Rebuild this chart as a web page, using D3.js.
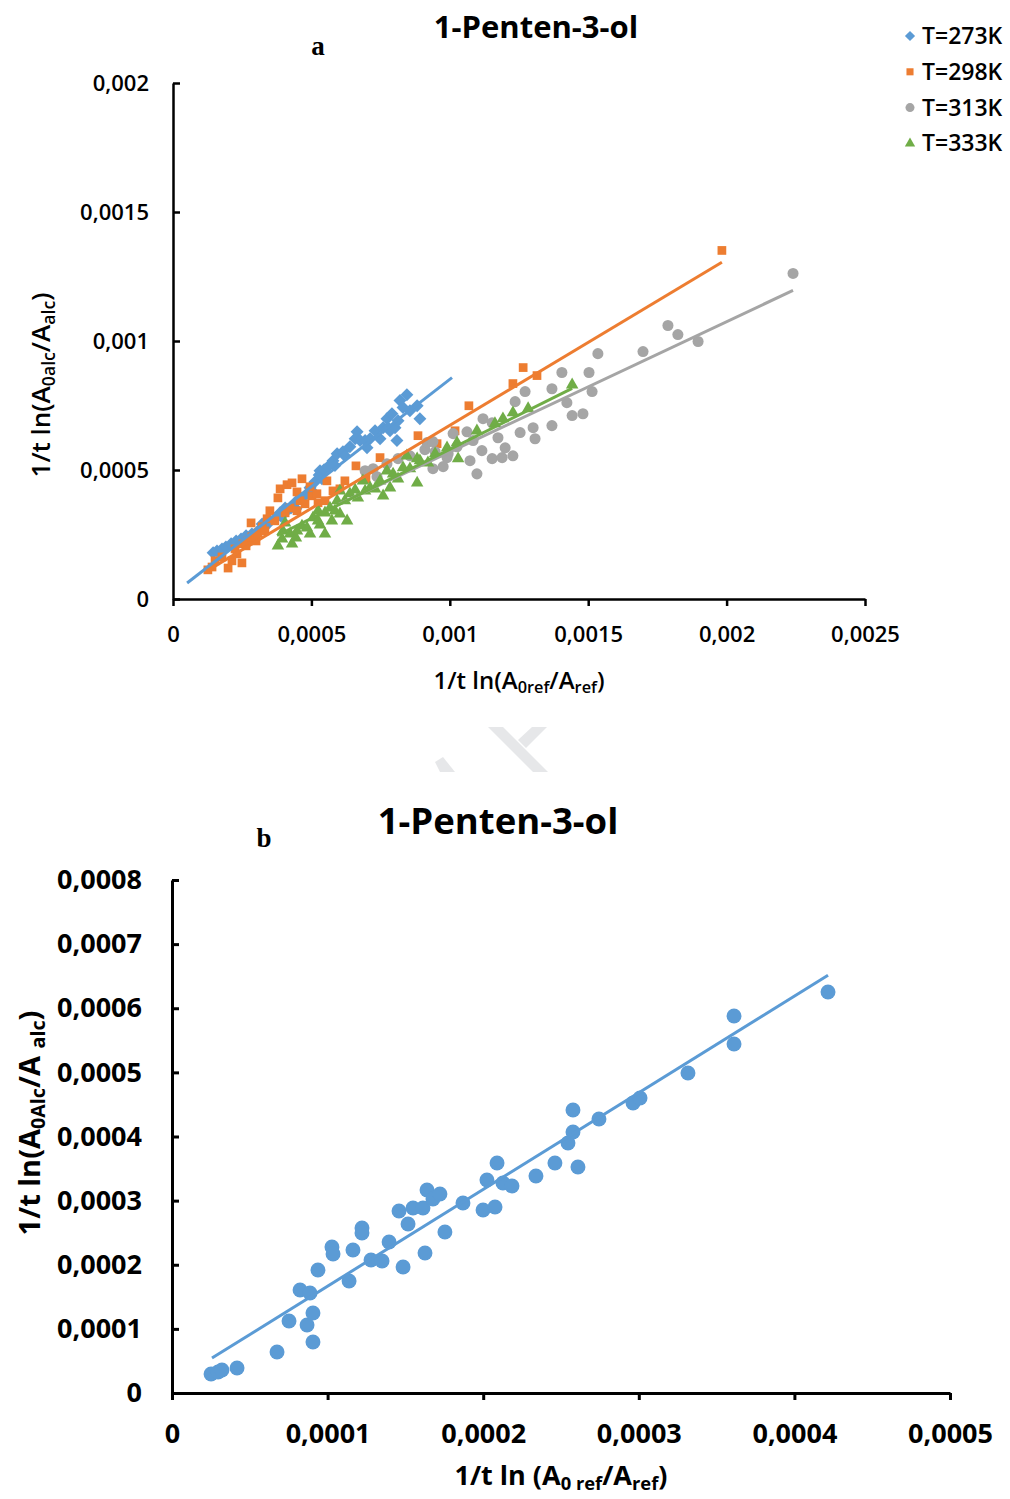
<!DOCTYPE html>
<html>
<head>
<meta charset="utf-8">
<script src="https://cdn.jsdelivr.net/npm/d3@7"></script>
<style>
  body { margin: 0; background: #fff; }
  svg { display: block; font-family: 'Open Sans', sans-serif; }
</style>
</head>
<body>
<svg id="fig" width="1010" height="1499"></svg>
<script>
// all values below are in units of 1e-4
const UNIT = 1e-4;

// chart a: 1/t ln(A0ref/Aref) vs 1/t ln(A0alc/Aalc)
const seriesNames = ["T=273K", "T=298K", "T=313K", "T=333K"];
const seriesColors = ["#5B9BD5", "#ED7D31", "#A5A5A5", "#70AD47"];

const s273 = [[1.45,1.79],[1.59,1.86],[1.77,1.94],[1.91,2.02],[2.10,2.14],[2.28,2.25],[2.46,2.33],[2.64,2.45],
  [2.85,2.52],[3.07,2.64],[3.22,2.91],[3.29,2.76],[3.50,2.99],[3.72,3.15],[3.87,3.34],[3.90,3.22],[4.05,3.53],
  [4.08,3.38],[4.26,3.53],[4.44,3.50],[4.44,3.77],[4.66,3.92],[4.84,4.08],[4.95,4.31],[5.02,4.19],[5.13,4.54],
  [5.28,4.81],[5.31,4.97],[5.38,4.66],[5.46,5.01],[5.60,5.13],[5.78,5.36],[5.85,5.17],[5.93,5.63],[6.14,5.71],
  [6.21,5.55],[6.39,5.90],[6.58,6.21],[6.65,6.48],[6.76,6.14],[6.94,6.14],[7.01,5.86],[7.12,6.21],[7.30,6.52],
  [7.48,6.21],[7.59,6.64],[7.73,6.99],[7.77,6.64],[7.84,6.52],[7.91,7.18],[8.02,6.64],[8.09,6.14],[8.13,6.91],
  [8.20,7.69],[8.31,7.42],[8.45,7.92],[8.56,7.30],[8.82,7.49],[8.92,6.99]];

const s298 = [[1.26,1.13],[1.41,1.24],[1.52,1.48],[1.77,1.63],[1.99,1.20],[2.13,1.48],[2.24,1.94],[2.31,1.75],
  [2.49,1.40],[2.53,2.14],[2.64,2.06],[2.71,2.25],[2.82,2.95],[2.85,2.41],[3.00,2.25],[3.07,2.56],[3.22,2.80],
  [3.32,2.64],[3.40,3.11],[3.50,3.42],[3.68,3.03],[3.79,3.92],[3.87,4.27],[4.05,3.34],[4.12,4.43],[4.23,3.53],
  [4.30,4.50],[4.48,4.15],[4.48,3.42],[4.59,3.81],[4.66,4.66],[4.77,3.69],[4.95,4.35],[5.02,4.00],[5.20,4.08],
  [5.24,3.73],[5.49,3.81],[5.56,4.58],[5.78,4.19],[6.03,4.27],[6.21,4.58],[6.61,5.16],[6.97,4.66],[7.48,5.48],
  [8.85,6.33],[9.54,6.02],[10.19,6.52],[10.69,7.49],[12.28,8.35],[12.65,8.97],[13.15,8.66],[19.83,13.51]];

const s313 = [[6.94,4.97],[7.23,5.05],[7.37,4.74],[7.73,5.24],[8.13,5.44],[8.56,5.55],[9.10,5.79],[9.18,6.06],
  [9.39,6.10],[9.39,5.05],[9.47,5.71],[9.76,5.13],[9.90,5.48],[9.94,5.63],[10.12,6.41],[10.26,5.90],[10.62,6.48],
  [10.73,5.36],[10.84,6.14],[10.98,4.85],[11.16,5.75],[11.20,6.99],[11.53,6.83],[11.53,5.44],[11.74,6.25],
  [11.89,5.48],[12.00,5.86],[12.28,5.55],[12.36,7.65],[12.54,6.45],[12.72,8.04],[13.01,6.64],[13.08,6.21],
  [13.69,8.15],[13.69,6.72],[14.05,8.78],[14.23,7.61],[14.42,7.11],[14.81,7.18],[15.03,8.78],[15.14,8.04],
  [15.35,9.51],[16.98,9.59],[17.88,10.60],[18.24,10.25],[18.97,9.98],[22.40,12.62]];

const s333 = [[3.79,2.06],[3.94,2.33],[3.97,2.64],[4.05,2.95],[4.23,2.52],[4.30,2.14],[4.44,2.37],[4.48,2.64],
  [4.66,2.83],[4.84,2.76],[4.95,2.52],[5.06,3.15],[5.24,3.03],[5.24,3.42],[5.31,2.87],[5.49,3.34],[5.49,2.52],
  [5.67,3.53],[5.74,3.03],[5.85,3.42],[5.93,3.81],[6.03,4.19],[6.03,3.30],[6.21,3.81],[6.29,3.03],[6.39,4.08],
  [6.58,4.23],[6.68,3.92],[6.86,4.58],[6.94,4.19],[7.12,4.31],[7.30,4.27],[7.48,4.58],[7.59,4.00],[7.73,4.97],
  [7.84,4.31],[7.95,4.85],[8.13,4.66],[8.31,5.09],[8.45,5.55],[8.56,5.05],[8.82,5.44],[8.82,4.50],[8.92,5.36],
  [9.21,5.28],[9.47,5.63],[9.90,5.86],[10.26,6.06],[10.30,5.44],[10.98,6.52],[11.63,6.80],[11.92,6.99],
  [12.28,7.22],[12.83,7.38],[14.42,8.30]];

const trendA = [
  { x0: 0.51, x1: 10.08, slope: 0.832, b: 0.196 },
  { x0: 1.23, x1: 19.83, slope: 0.643, b: 0.30 },
  { x0: 6.00, x1: 22.40, slope: 0.505, b: 0.65 },
  { x0: 3.76, x1: 14.42, slope: 0.535, b: 0.45 }
];
const xTicksA = [0, 5, 10, 15, 20, 25];
const yTicksA = [0, 5, 10, 15, 20];

// chart b
const sB = [[0.251,0.296],[0.296,0.327],[0.321,0.359],[0.418,0.390],[0.675,0.640],[0.752,1.123],[0.823,1.606],
  [0.887,1.559],[0.868,1.060],[0.906,1.248],[0.906,0.795],[0.938,1.918],[1.028,2.277],[1.035,2.168],[1.138,1.747],
  [1.163,2.230],[1.221,2.573],[1.221,2.495],[1.279,2.074],[1.350,2.058],[1.395,2.355],[1.459,2.838],[1.485,1.965],
  [1.517,2.635],[1.549,2.885],[1.613,2.885],[1.626,2.183],[1.639,3.166],[1.677,3.025],[1.722,3.103],[1.754,2.511],
  [1.870,2.963],[1.999,2.854],[2.076,2.901],[2.024,3.322],[2.089,3.587],[2.127,3.275],[2.185,3.228],[2.339,3.384],
  [2.461,3.587],[2.609,3.524],[2.545,3.899],[2.577,4.070],[2.577,4.413],[2.744,4.273],[2.963,4.522],[3.008,4.600],
  [3.316,4.990],[3.612,5.442],[3.612,5.879],[4.216,6.253]];
const trendB = [{ x0: 0.257, x1: 4.216, slope: 1.508, b: 0.158 }];
const xTicksB = [0, 1, 2, 3, 4, 5];
const yTicksB = [0, 1, 2, 3, 4, 5, 6, 7, 8];

const locale = d3.formatLocale({ decimal: ",", thousands: ".", grouping: [3], currency: ["", ""] });
const fmt = d => d === 0 ? "0" : locale.format("~g")(d * UNIT);

class ScatterChart {
    constructor(_config, _series, _trends) {
        this.config = {
            svg: _config.svg,
            left: _config.left,
            top: _config.top,
            width: _config.width,
            height: _config.height,
            xMax: _config.xMax,
            yMax: _config.yMax,
            xTicks: _config.xTicks,
            yTicks: _config.yTicks,
            tickFont: _config.tickFont,
            tickWeight: _config.tickWeight || 400,
            xPad: _config.xPad,
            yPad: _config.yPad,
            axisWidth: _config.axisWidth || 2.5,
        };
        this.series = _series;
        this.trends = _trends;
        this.initVis();
    }

    initVis() {
        let vis = this;
        const c = vis.config;

        vis.xScale = d3.scaleLinear().domain([0, c.xMax]).range([0, c.width]);
        vis.yScale = d3.scaleLinear().domain([0, c.yMax]).range([c.height, 0]);

        vis.chart = c.svg.append('g')
            .attr('transform', `translate(${c.left}, ${c.top})`);

        vis.xAxis = d3.axisBottom(vis.xScale)
            .tickValues(c.xTicks).tickFormat(fmt)
            .tickSize(7).tickSizeOuter(0).tickPadding(c.xPad);
        vis.yAxis = d3.axisLeft(vis.yScale)
            .tickValues(c.yTicks).tickFormat(fmt)
            .tickSize(-7).tickSizeOuter(0).tickPadding(c.yPad);
    }

    renderVis() {
        let vis = this;
        const c = vis.config;

        vis.series.forEach(s => {
            vis.chart.append('g').selectAll('path')
                .data(s.values)
                .join('path')
                .attr('d', d3.symbol(s.shape, s.size))
                .attr('transform', d => `translate(${vis.xScale(d[0])}, ${vis.yScale(d[1])}) rotate(${s.rotate || 0})`)
                .attr('fill', s.color);
        });

        const line = d3.line().x(d => vis.xScale(d[0])).y(d => vis.yScale(d[1]));
        vis.trends.forEach((t, i) => {
            vis.chart.append('path')
                .attr('d', line([[t.x0, t.slope * t.x0 + t.b], [t.x1, t.slope * t.x1 + t.b]]))
                .attr('stroke', vis.series[i].color)
                .attr('stroke-width', 3)
                .attr('fill', 'none');
        });

        const styleAxis = g => {
            g.select('.domain').attr('stroke-width', c.axisWidth);
            g.selectAll('.tick line').attr('stroke-width', c.axisWidth);
            g.selectAll('.tick text')
                .attr('fill', '#000')
                .style('font-size', c.tickFont + 'px')
                .style('font-weight', c.tickWeight)
                .style('font-family', "'Open Sans', sans-serif");
        };

        vis.chart.append('g')
            .attr('transform', `translate(0, ${c.height})`)
            .call(vis.xAxis).call(styleAxis);
        vis.chart.append('g')
            .call(vis.yAxis).call(styleAxis);
    }
}

const svg = d3.select('#fig');

// rich label with subscripts: parts = [[text, isSub], ...]
function richText(g, x, y, parts, opts) {
    const t = g.append('text')
        .attr('x', x).attr('y', y)
        .attr('text-anchor', 'middle')
        .style('font-size', opts.size + 'px')
        .style('font-weight', opts.weight || 400);
    if (opts.rotate) t.attr('transform', `rotate(-90, ${x}, ${y})`);
    parts.forEach(p => {
        const ts = t.append('tspan').text(p[0]);
        if (p[1]) ts.style('font-size', (opts.size * 0.68) + 'px').attr('baseline-shift', '-25%');
    });
    return t;
}

// ---- chart a
const chartA = new ScatterChart({
    svg: svg, left: 173, top: 83, width: 692, height: 516,
    xMax: 25, yMax: 20, xTicks: xTicksA, yTicks: yTicksA,
    tickFont: 22, tickWeight: 600, xPad: 20, yPad: 24, axisWidth: 2.5
}, [
    { values: s273, color: seriesColors[0], shape: d3.symbolSquare, size: 84, rotate: 45 },
    { values: s298, color: seriesColors[1], shape: d3.symbolSquare, size: 76 },
    { values: s313, color: seriesColors[2], shape: d3.symbolCircle, size: 96 },
    { values: s333, color: seriesColors[3], shape: d3.symbolTriangle, size: 68 }
], trendA);
chartA.renderVis();

svg.append('text').attr('x', 536).attr('y', 38).attr('text-anchor', 'middle')
    .style('font-size', '31px').style('font-weight', 700).text('1-Penten-3-ol');
svg.append('text').attr('x', 318).attr('y', 55).attr('text-anchor', 'middle')
    .style('font-family', "'Liberation Serif', serif").style('font-size', '27px').style('font-weight', 700).text('a');

richText(svg, 519, 689, [['1/t ln(A', 0], ['0ref', 1], ['/A', 0], ['ref', 1], [')', 0]], { size: 24, weight: 600 });
richText(svg, 50, 385, [['1/t ln(A', 0], ['0alc', 1], ['/A', 0], ['alc', 1], [')', 0]], { size: 26, weight: 600, rotate: true });

// legend
const legend = svg.append('g').attr('transform', 'translate(910, 36)');
const legendShapes = [
    { shape: d3.symbolSquare, size: 52, rotate: 45 },
    { shape: d3.symbolSquare, size: 50 },
    { shape: d3.symbolCircle, size: 64 },
    { shape: d3.symbolTriangle, size: 46 }
];
seriesNames.forEach((name, i) => {
    const row = legend.append('g').attr('transform', `translate(0, ${i * 35.8})`);
    row.append('path')
        .attr('d', d3.symbol(legendShapes[i].shape, legendShapes[i].size))
        .attr('transform', `rotate(${legendShapes[i].rotate || 0})`)
        .attr('fill', seriesColors[i]);
    row.append('text').attr('x', 12).attr('y', 8)
        .style('font-size', '23px').style('font-weight', 600).text(name);
});

// watermark fragment between the panels
const mark = svg.append('g').attr('fill', '#e6e7e9');
mark.append('polygon').attr('points', '435,762 443,757 455,772 440,772');
mark.append('polygon').attr('points', '488,727 503,727 548,772 533,772');
mark.append('polygon').attr('points', '532,727 547,727 526,748 518,740');

// ---- chart b
const chartB = new ScatterChart({
    svg: svg, left: 172, top: 880, width: 778, height: 513,
    xMax: 5, yMax: 8, xTicks: xTicksB, yTicks: yTicksB,
    tickFont: 27, tickWeight: 700, xPad: 24, yPad: 30, axisWidth: 3
}, [
    { values: sB, color: seriesColors[0], shape: d3.symbolCircle, size: 175 }
], trendB);
chartB.renderVis();

svg.append('text').attr('x', 498).attr('y', 834).attr('text-anchor', 'middle')
    .style('font-size', '36.5px').style('font-weight', 700).text('1-Penten-3-ol');
svg.append('text').attr('x', 264).attr('y', 847).attr('text-anchor', 'middle')
    .style('font-family', "'Liberation Serif', serif").style('font-size', '27px').style('font-weight', 700).text('b');

richText(svg, 561, 1485, [['1/t ln (A', 0], ['0 ref', 1], ['/A', 0], ['ref', 1], [')', 0]], { size: 27, weight: 700 });
richText(svg, 40, 1123, [['1/t ln(A', 0], ['0Alc', 1], ['/A ', 0], ['alc', 1], [')', 0]], { size: 29, weight: 700, rotate: true });
</script>
</body>
</html>
